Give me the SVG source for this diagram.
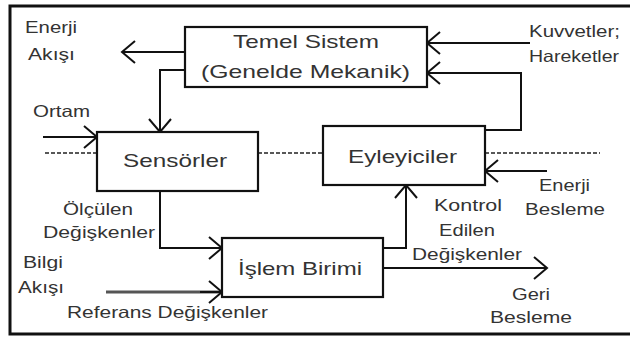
<svg xmlns="http://www.w3.org/2000/svg" width="630" height="338" viewBox="0 0 630 338">
<defs>
<style>
.box{fill:#fff;stroke:#111;stroke-width:2.2}
.ln{fill:none;stroke:#111;stroke-width:2}
.ref{fill:none;stroke:#555;stroke-width:3}
.dash{fill:none;stroke:#222;stroke-width:1.6;stroke-dasharray:4 2}
.big{font-family:"Liberation Sans",Arial,sans-serif;font-size:19px;fill:#333}
.sm{font-family:"Liberation Sans",Arial,sans-serif;font-size:16.5px;fill:#333}
</style>
<marker id="ah" markerUnits="userSpaceOnUse" markerWidth="30" markerHeight="30" refX="0" refY="0" viewBox="-15 -15 30 30" orient="auto" overflow="visible">
<path d="M-13 -11 L0 0 L-13 11" fill="none" stroke="#111" stroke-width="2"/>
</marker>
</defs>
<rect width="630" height="338" fill="#fff"/>
<path d="M632 6 H10 V334 H632" fill="none" stroke="#111" stroke-width="3"/>

<g id="connectors">
<path class="ln" d="M185 52 H122" marker-end="url(#ah)"/>
<path class="ln" d="M185 70 H160 V132" marker-end="url(#ah)"/>
<path class="ln" d="M43 137 H97" marker-end="url(#ah)"/>
<path class="ln" d="M530 43 H427" marker-end="url(#ah)"/>
<path class="ln" d="M485 130 H521 V73 H427" marker-end="url(#ah)"/>
<path class="ln" d="M547 171 H485" marker-end="url(#ah)"/>
<path class="ln" d="M160 191 V248 H222" marker-end="url(#ah)"/>
<path class="ref" d="M106 292 H221" />
<path class="ln" d="M200 292 H222" marker-end="url(#ah)"/>
<path class="ln" d="M383 248 H406 V185" marker-end="url(#ah)"/>
<path class="ln" d="M383 268 H547" marker-end="url(#ah)"/>
<path class="dash" d="M45 153 H97 M258 153 H323 M485 153 H600"/>
</g>

<g id="temel">
<rect class="box" x="185" y="27" width="242" height="60"/>
<text class="big" x="233" y="48" textLength="146" lengthAdjust="spacingAndGlyphs">Temel Sistem</text>
<text class="big" x="201" y="78" textLength="209" lengthAdjust="spacingAndGlyphs">(Genelde Mekanik)</text>
</g>
<g id="sensorler">
<rect class="box" x="97" y="132" width="161" height="59"/>
<text class="big" x="123" y="167" textLength="104" lengthAdjust="spacingAndGlyphs">Sensörler</text>
</g>
<g id="eyleyiciler">
<rect class="box" x="323" y="126" width="162" height="59"/>
<text class="big" x="348" y="163" textLength="109" lengthAdjust="spacingAndGlyphs">Eyleyiciler</text>
</g>
<g id="islem">
<rect class="box" x="222" y="238" width="161" height="59"/>
<text class="big" x="238" y="275" textLength="124" lengthAdjust="spacingAndGlyphs">İşlem Birimi</text>
</g>

<g id="labels">
<text class="sm" x="25" y="33" textLength="52" lengthAdjust="spacingAndGlyphs">Enerji</text>
<text class="sm" x="28" y="60" textLength="47" lengthAdjust="spacingAndGlyphs">Akışı</text>
<text class="sm" x="33" y="117" textLength="57" lengthAdjust="spacingAndGlyphs">Ortam</text>
<text class="sm" x="529" y="37" textLength="91" lengthAdjust="spacingAndGlyphs">Kuvvetler;</text>
<text class="sm" x="529" y="62" textLength="90" lengthAdjust="spacingAndGlyphs">Hareketler</text>
<text class="sm" x="63" y="215" textLength="70" lengthAdjust="spacingAndGlyphs">Ölçülen</text>
<text class="sm" x="43" y="238" textLength="112" lengthAdjust="spacingAndGlyphs">Değişkenler</text>
<text class="sm" x="23" y="268" textLength="40" lengthAdjust="spacingAndGlyphs">Bilgi</text>
<text class="sm" x="18" y="293" textLength="46" lengthAdjust="spacingAndGlyphs">Akışı</text>
<text class="sm" x="67" y="318" textLength="201" lengthAdjust="spacingAndGlyphs">Referans Değişkenler</text>
<text class="sm" x="539" y="191" textLength="51" lengthAdjust="spacingAndGlyphs">Enerji</text>
<text class="sm" x="525" y="215" textLength="80" lengthAdjust="spacingAndGlyphs">Besleme</text>
<text class="sm" x="434" y="211" textLength="68" lengthAdjust="spacingAndGlyphs">Kontrol</text>
<text class="sm" x="439" y="236" textLength="56" lengthAdjust="spacingAndGlyphs">Edilen</text>
<text class="sm" x="412" y="260" textLength="110" lengthAdjust="spacingAndGlyphs">Değişkenler</text>
<text class="sm" x="512" y="300" textLength="38" lengthAdjust="spacingAndGlyphs">Geri</text>
<text class="sm" x="490" y="323" textLength="82" lengthAdjust="spacingAndGlyphs">Besleme</text>
</g>
</svg>
